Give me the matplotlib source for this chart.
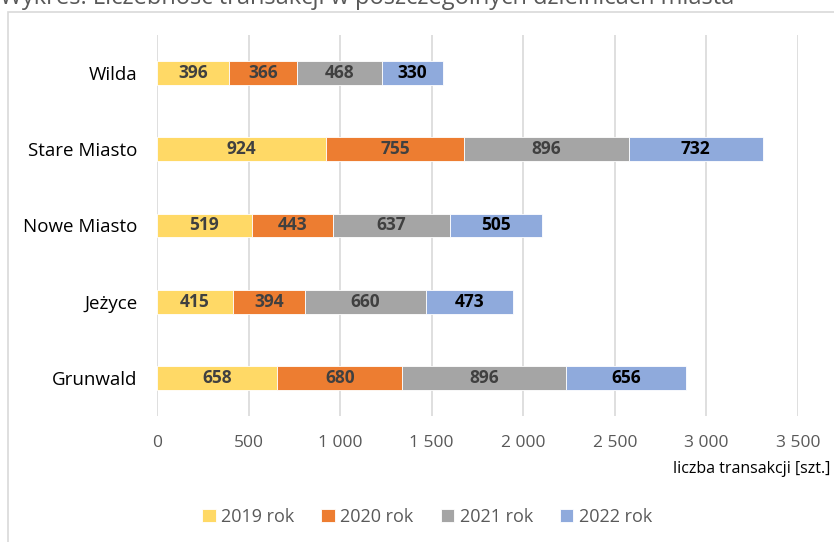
import matplotlib.pyplot as plt
from matplotlib.patches import Rectangle
from matplotlib.ticker import FuncFormatter

plt.rcParams['font.family'] = ['Open Sans', 'DejaVu Sans']

# districts, bottom to top
districts = ["Grunwald", "Jeżyce", "Nowe Miasto", "Stare Miasto", "Wilda"]
years = ["2019 rok", "2020 rok", "2021 rok", "2022 rok"]
y2019 = [658, 415, 519, 924, 396]
y2020 = [680, 394, 443, 755, 366]
y2021 = [896, 660, 637, 896, 468]
y2022 = [656, 473, 505, 732, 330]
colors = ["#FFD966", "#ED7D31", "#A5A5A5", "#8FAADC"]
label_colors = ["#404040", "#404040", "#404040", "#000000"]

fig = plt.figure(figsize=(8.34, 5.42), dpi=100)
ax = fig.add_axes([0.1882, 0.2325, 0.7686, 0.7029])

# chart border
fig.patches.append(Rectangle((8 / 834, -0.01), 1.0, 1 - 12 / 542 + 0.01,
                             transform=fig.transFigure, fill=False,
                             edgecolor="#D9D9D9", linewidth=1.2))

left = [0] * len(districts)
for vals, col, lcol, name in zip([y2019, y2020, y2021, y2022], colors, label_colors, years):
    bars = ax.barh(districts, vals, left=left, height=0.31, color=col,
                   edgecolor="white", linewidth=0.6, label=name, zorder=3)
    ax.bar_label(bars, labels=[str(v) for v in vals], label_type="center",
                 color=lcol, fontweight="bold", fontsize=12.5)
    left = [a + b for a, b in zip(left, vals)]

ax.set_xlim(0, 3500)
ax.set_ylim(-0.5, 4.5)
ax.set_xticks(range(0, 3501, 500))
ax.xaxis.set_major_formatter(FuncFormatter(lambda v, p: f"{int(v):,}".replace(",", " ")))
ax.grid(axis="x", color="#D9D9D9", linewidth=1.2, zorder=0)
for s in ax.spines.values():
    s.set_visible(False)
ax.tick_params(axis="both", length=0)
ax.tick_params(axis="x", labelsize=12.5, labelcolor="#595959", pad=14)
ax.tick_params(axis="y", labelsize=13.5, labelcolor="#000000", pad=14)

fig.text(830 / 834, 1 - 469 / 542, "liczba transakcji [szt.]", ha="right",
         va="center", fontsize=11.5, color="#000000")
fig.text(0.0, 1 - 4 / 542, "Wykres: Liczebność transakcji w poszczególnych dzielnicach miasta",
         ha="left", va="baseline", fontsize=17, color="#595959")

fig.legend(loc="center", bbox_to_anchor=(427 / 834, 1 - 517 / 542), ncol=4,
           frameon=False, fontsize=13, handlelength=0.75, handleheight=0.75,
           handletextpad=0.3, columnspacing=1.5, labelcolor="#595959")

fig.savefig("out.png", dpi=100)
